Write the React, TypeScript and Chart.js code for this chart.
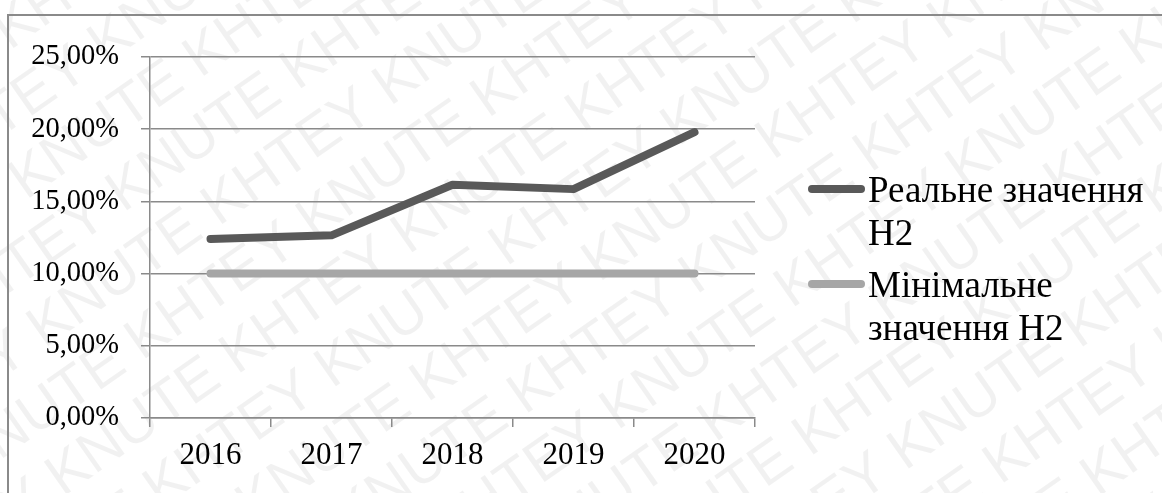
import { useEffect, useRef } from "react";
import { Chart, registerables } from "chart.js";

Chart.register(...registerables);

const categories = ["2016", "2017", "2018", "2019", "2020"];
const realValues = [12.4, 12.65, 16.15, 15.85, 19.8];
const minValues = [10, 10, 10, 10, 10];
const seriesLabels = ["Реальне значення H2", "Мінімальне значення H2"];
const legendLines = [
  ["Реальне значення", "H2"],
  ["Мінімальне", "значення H2"],
];
const yMin = 0;
const yMax = 25;
const yStep = 5;
const watermarkWords = ["KHTEY", "KNUTE"];

const SERIF = "'Liberation Serif', 'Times New Roman', serif";
const GRID = "#8a8a8a";

const framePlugin = {
  id: "frameAndWatermark",
  beforeDraw(chart: any) {
    const ctx = chart.ctx;
    ctx.save();
    ctx.fillStyle = "#ffffff";
    ctx.fillRect(0, 0, chart.width, chart.height);
    // watermark
    ctx.fillStyle = "rgba(0,0,0,0.055)";
    ctx.font = "58px 'Liberation Sans', Arial, sans-serif";
    ctx.textBaseline = "middle";
    const angle = (-35 * Math.PI) / 180;
    ctx.translate(chart.width / 2, chart.height / 2);
    ctx.rotate(angle);
    const row = (watermarkWords.join(" ") + " ").repeat(12);
    const row2 = (watermarkWords.slice().reverse().join(" ") + " ").repeat(12);
    let i = 0;
    for (let y = -900; y <= 900; y += 66) {
      const txt = i % 2 === 0 ? row : row2;
      ctx.fillText(txt, -1200 + (i % 3) * 70, y);
      i++;
    }
    ctx.restore();
    // outer frame
    ctx.save();
    ctx.strokeStyle = GRID;
    ctx.lineWidth = 2;
    ctx.strokeRect(8, 15, chart.width + 40, chart.height + 40);
    ctx.restore();
  },
};

const legendPlugin = {
  id: "customLegend",
  afterDraw(chart: any) {
    const ctx = chart.ctx;
    const area = chart.chartArea;
    const x0 = area.right + 57;
    const x1 = area.right + 106;
    const tx = area.right + 113;
    const baselines = [
      [202, 245],
      [297, 340],
    ];
    ctx.save();
    chart.data.datasets.forEach((ds: any, i: number) => {
      const lines = legendLines[i];
      const b = baselines[i];
      const sy = b[0] - 13;
      ctx.strokeStyle = ds.borderColor;
      ctx.lineWidth = 8;
      ctx.lineCap = "round";
      ctx.beginPath();
      ctx.moveTo(x0, sy);
      ctx.lineTo(x1, sy);
      ctx.stroke();
      ctx.fillStyle = "#000000";
      ctx.font = `37px ${SERIF}`;
      ctx.textBaseline = "alphabetic";
      ctx.textAlign = "left";
      lines.forEach((t, k) => ctx.fillText(t, tx, b[k]));
    });
    ctx.restore();
  },
};

export default function App() {
  const ref = useRef<HTMLCanvasElement | null>(null);

  useEffect(() => {
    if (!ref.current) return;
    const chart = new Chart(ref.current, {
      type: "line",
      data: {
        labels: categories,
        datasets: [
          {
            label: seriesLabels[0],
            data: realValues,
            borderColor: "#595959",
            backgroundColor: "#595959",
            borderWidth: 8,
            borderCapStyle: "round",
            borderJoinStyle: "round",
            pointRadius: 0,
            tension: 0,
          },
          {
            label: seriesLabels[1],
            data: minValues,
            borderColor: "#a6a6a6",
            backgroundColor: "#a6a6a6",
            borderWidth: 8,
            borderCapStyle: "round",
            borderJoinStyle: "round",
            pointRadius: 0,
            tension: 0,
          },
        ],
      },
      options: {
        responsive: false,
        animation: false,
        layout: { padding: { top: 57, right: 407, bottom: 0, left: 0 } },
        plugins: {
          legend: { display: false },
          tooltip: { enabled: false },
        },
        scales: {
          x: {
            offset: true,
            grid: {
              display: true,
              offset: true,
              drawOnChartArea: false,
              drawTicks: true,
              tickLength: 9,
              color: GRID,
              lineWidth: 1.5,
            },
            border: { display: true, color: GRID, width: 1.5 },
            ticks: {
              color: "#000000",
              padding: 10,
              font: { family: SERIF, size: 31 },
              maxRotation: 0,
            },
            afterFit: (s: any) => {
              s.height = 75;
            },
          },
          y: {
            min: yMin,
            max: yMax,
            grid: {
              color: GRID,
              lineWidth: 1.5,
              drawTicks: true,
              tickLength: 9,
            },
            border: { display: true, color: GRID, width: 1.5 },
            ticks: {
              stepSize: yStep,
              color: "#000000",
              padding: 22,
              font: { family: SERIF, size: 28.5 },
              callback: (v: any) => Number(v).toFixed(2).replace(".", ",") + "%",
            },
            afterFit: (s: any) => {
              s.width = 150;
            },
          },
        },
      },
      plugins: [framePlugin, legendPlugin],
    });
    return () => chart.destroy();
  }, []);

  return (
    <div style={{ position: "fixed", left: 0, top: 0, width: 1162, height: 493 }}>
      <canvas ref={ref} width={1162} height={493} style={{ display: "block" }} />
    </div>
  );
}
